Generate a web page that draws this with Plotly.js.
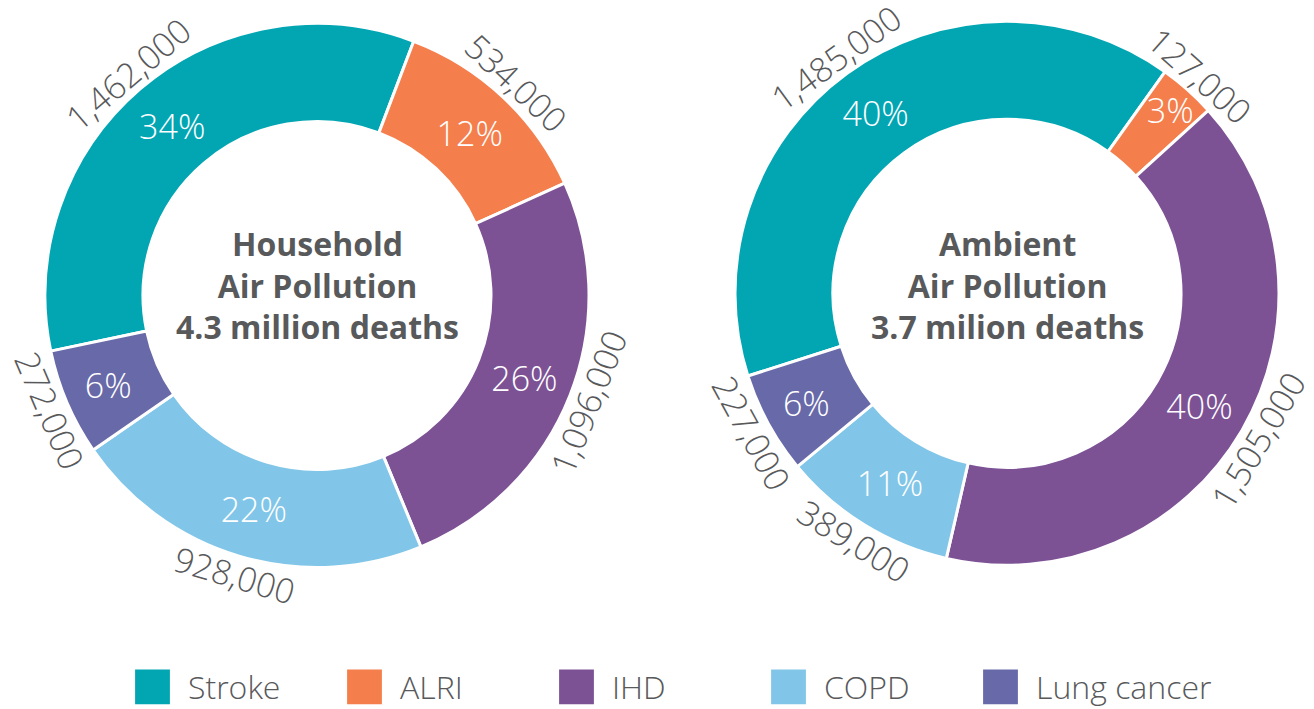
<!DOCTYPE html>
<html><head><meta charset="utf-8">
<script src="https://cdn.plot.ly/plotly-3.0.1.min.js"></script>
<style>
html,body{margin:0;padding:0;overflow:hidden;background:#fff;}
#chart{width:1314px;height:709px;}
</style></head><body><div id="chart"></div>
<script>
// ---- data ----
const categories = ['Stroke', 'ALRI', 'IHD', 'COPD', 'Lung cancer'];
const householdDeaths = [1462000, 534000, 1096000, 928000, 272000];
const householdPctLabels = ['34%', '12%', '26%', '22%', '6%'];
const ambientDeaths = [1485000, 127000, 1505000, 389000, 227000];
const ambientPctLabels = ['40%', '3%', '40%', '11%', '6%'];
const householdTitle = ['Household', 'Air Pollution', '4.3 million deaths'];
const ambientTitle = ['Ambient', 'Air Pollution', '3.7 milion deaths'];

// ---- style / layout ----
const colors = ['#02A6B3', '#F47E4C', '#7C5295', '#81C6E8', '#6869A8'];
const FONT = 'Open Sans, sans-serif';
const GREY = '#58595b';
const W = 1314, H = 709;
const R_OUT = 272, R_IN = 174, R_LAB = 291;
const TITLE_Y = 285;
const charts = [
  {values: householdDeaths, pct: householdPctLabels, title: householdTitle, cx: 317, cy: 295.5, rot: -101.8, legend: true},
  {values: ambientDeaths, pct: ambientPctLabels, title: ambientTitle, cx: 1007, cy: 293.3, rot: -107.7, legend: false}
];

function dom(cx, cy, r) {
  return {x: [(cx - r) / W, (cx + r) / W], y: [1 - (cy + r) / H, 1 - (cy - r) / H]};
}

const traces = [];
const annotations = [];
charts.forEach(function (c) {
  traces.push({
    type: 'pie', labels: categories, values: c.values, text: c.pct,
    textinfo: 'text', textposition: 'inside', insidetextorientation: 'horizontal',
    sort: false, direction: 'clockwise', rotation: c.rot,
    hole: R_IN / R_OUT, domain: dom(c.cx, c.cy, R_OUT),
    marker: {colors: colors, line: {color: '#ffffff', width: 3}},
    textfont: {family: FONT, size: 34, color: '#ffffff', weight: 300},
    showlegend: c.legend, hoverinfo: 'none'
  });
  // value labels, placed tangentially at each slice's mid-angle
  const total = c.values.reduce((a, b) => a + b, 0);
  let cum = 0;
  c.values.forEach(function (v) {
    const mid = c.rot + 360 * (cum + v / 2) / total;
    cum += v;
    const rad = mid * Math.PI / 180;
    let ang = ((mid % 360) + 540) % 360 - 180;
    if (ang > 90) ang -= 180; else if (ang < -90) ang += 180;
    annotations.push({
      text: v.toLocaleString('en-US'),
      x: (c.cx + R_LAB * Math.sin(rad)) / W, y: 1 - (c.cy - R_LAB * Math.cos(rad)) / H,
      xref: 'paper', yref: 'paper', xanchor: 'center', yanchor: 'middle',
      showarrow: false, textangle: ang,
      font: {family: FONT, size: 34, color: GREY, weight: 300}
    });
  });
  annotations.push({
    text: '<b>' + c.title.join('<br>') + '</b>', x: c.cx / W, y: 1 - TITLE_Y / H,
    xref: 'paper', yref: 'paper', xanchor: 'center', yanchor: 'middle', showarrow: false,
    font: {family: FONT, size: 32, color: GREY}
  });
});

const layout = {
  width: W, height: H,
  margin: {l: 0, r: 0, t: 0, b: 0, autoexpand: false},
  paper_bgcolor: '#ffffff',
  font: {family: FONT, color: GREY},
  uniformtext: {minsize: 34, mode: 'show'},
  showlegend: true,
  legend: {
    orientation: 'h', x: 117 / W, xanchor: 'left',
    y: 1 - 687 / H, yanchor: 'middle',
    font: {family: FONT, size: 32, color: GREY, weight: 300},
    itemwidth: 61, entrywidth: 136, entrywidthmode: 'pixels',
    bgcolor: 'rgba(0,0,0,0)', traceorder: 'normal', itemclick: false, itemdoubleclick: false
  },
  annotations: annotations
};

Plotly.newPlot('chart', traces, layout, {displayModeBar: false, staticPlot: true}).then(function (gd) {
  gd.querySelectorAll('.legendpoints path.legendpie').forEach(function (p) {
    const t = p.getAttribute('transform') || '';
    p.setAttribute('transform', t + ' scale(2.9)');
    p.style.strokeWidth = '0';
  });
  gd.querySelectorAll('.legend .scrollbox, .legend').forEach(function (g) {
    g.removeAttribute('clip-path');
  });
});
</script>
</body></html>
